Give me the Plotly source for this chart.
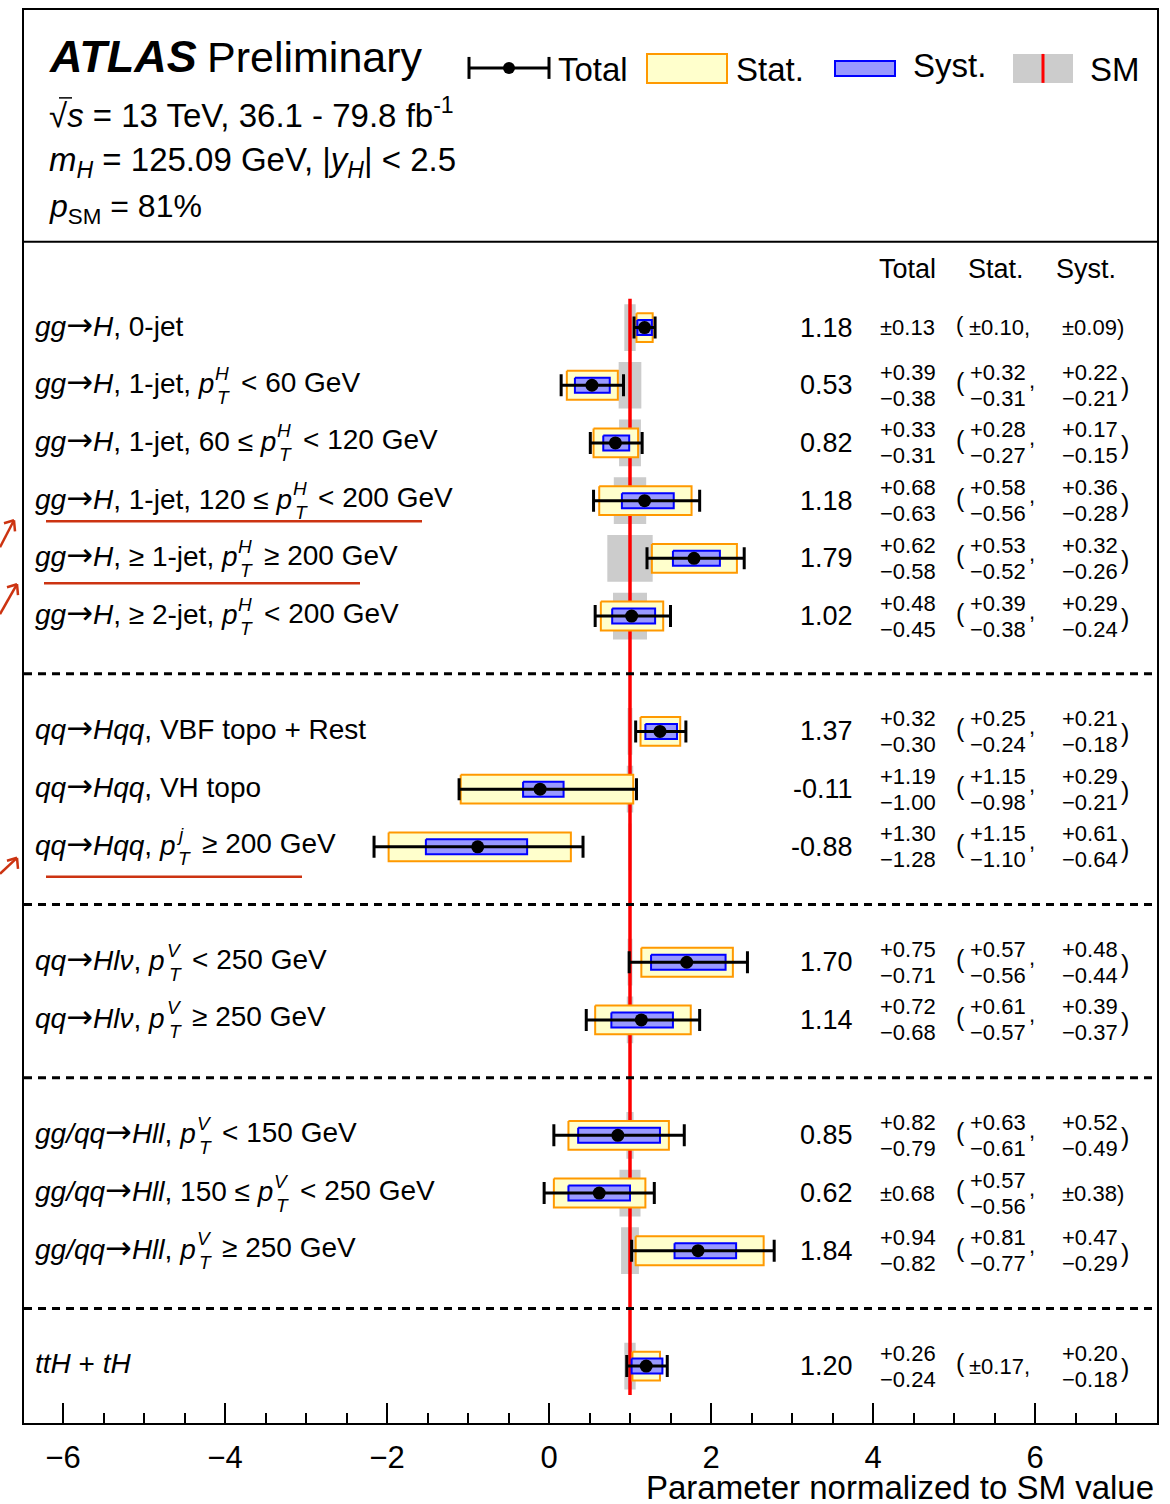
import plotly.graph_objects as go

# ---------------- data ----------------
group_sizes = [6, 3, 2, 3, 1]
# label: (prefix, superscript, subscript, suffix); {..} marks italic text
labels = [
    ("{gg}→{H}, 0-jet", None, None, None),
    ("{gg}→{H}, 1-jet, {p}", "H", "T", "< 60 GeV"),
    ("{gg}→{H}, 1-jet, 60 ≤ {p}", "H", "T", "< 120 GeV"),
    ("{gg}→{H}, 1-jet, 120 ≤ {p}", "H", "T", "< 200 GeV"),
    ("{gg}→{H}, ≥ 1-jet, {p}", "H", "T", "≥ 200 GeV"),
    ("{gg}→{H}, ≥ 2-jet, {p}", "H", "T", "< 200 GeV"),
    ("{qq}→{Hqq}, VBF topo + Rest", None, None, None),
    ("{qq}→{Hqq}, VH topo", None, None, None),
    ("{qq}→{Hqq}, {p}", "j", "T", "≥ 200 GeV"),
    ("{qq}→{Hlν}, {p}", "V", "T", "< 250 GeV"),
    ("{qq}→{Hlν}, {p}", "V", "T", "≥ 250 GeV"),
    ("{gg/qq}→{Hll}, {p}", "V", "T", "< 150 GeV"),
    ("{gg/qq}→{Hll}, 150 ≤ {p}", "V", "T", "< 250 GeV"),
    ("{gg/qq}→{Hll}, {p}", "V", "T", "≥ 250 GeV"),
    ("{ttH} + {tH}", None, None, None),
]
values  = [1.18, 0.53, 0.82, 1.18, 1.79, 1.02, 1.37, -0.11, -0.88, 1.70, 1.14, 0.85, 0.62, 1.84, 1.20]
tot_hi  = [0.13, 0.39, 0.33, 0.68, 0.62, 0.48, 0.32, 1.19, 1.30, 0.75, 0.72, 0.82, 0.68, 0.94, 0.26]
tot_lo  = [0.13, 0.38, 0.31, 0.63, 0.58, 0.45, 0.30, 1.00, 1.28, 0.71, 0.68, 0.79, 0.68, 0.82, 0.24]
stat_hi = [0.10, 0.32, 0.28, 0.58, 0.53, 0.39, 0.25, 1.15, 1.15, 0.57, 0.61, 0.63, 0.57, 0.81, 0.17]
stat_lo = [0.10, 0.31, 0.27, 0.56, 0.52, 0.38, 0.24, 0.98, 1.10, 0.56, 0.57, 0.61, 0.56, 0.77, 0.17]
syst_hi = [0.09, 0.22, 0.17, 0.36, 0.32, 0.29, 0.21, 0.29, 0.61, 0.48, 0.39, 0.52, 0.38, 0.47, 0.20]
syst_lo = [0.09, 0.21, 0.15, 0.28, 0.26, 0.24, 0.18, 0.21, 0.64, 0.44, 0.37, 0.49, 0.38, 0.29, 0.18]
sm_unc  = [0.07, 0.14, 0.135, 0.20, 0.28, 0.21, 0.03, 0.04, 0.02, 0.03, 0.04, 0.045, 0.13, 0.11, 0.07]
sm_value = 1.0
x_tick_vals = [-6, -4, -2, 0, 2, 4, 6]
x_tick_text = ["−6", "−4", "−2", "0", "2", "4", "6"]

# ---------------- layout constants (pixels) ----------------
W, H = 1170, 1504
PX0, PX1, PY0, PY1 = 24, 1157, 8, 1423
X_ZERO_PX, X_PER_UNIT = 549.0, 81.0
ROW0_PX, ROW_PX = 326.0, 57.78

def xdata(px): return (px - X_ZERO_PX) / X_PER_UNIT
def ydata(py): return (py - ROW0_PX) / ROW_PX
def xp(px): return (px - PX0) / (PX1 - PX0)
def yp(py): return (PY1 - py) / (PY1 - PY0)
def dy(pix): return pix / ROW_PX

FONT = "Liberation Sans, Arial, Helvetica, sans-serif"
LAB_SIZE = 28
SUP_SIZE = 19
ARROW_SIZE = 32
ARROW_W = 0.838  # DejaVu Sans arrow advance (em)

# Arial / Liberation Sans advance widths (em)
CW = {' ': .278, ',': .278, '-': .333, '.': .278, '/': .278, '+': .584, '<': .584,
      '≤': .549, '≥': .549, '=': .584, 'ν': .55}
for ch in '0123456789':
    CW[ch] = .556
CW.update({'A': .667, 'B': .667, 'F': .611, 'G': .778, 'H': .722, 'R': .722, 'T': .611,
           'V': .667, 'a': .556, 'e': .556, 'g': .556, 'i': .222, 'j': .222, 'l': .222,
           'o': .556, 'p': .556, 'q': .556, 's': .5, 't': .278})

def text_width(s, size):
    w = 0.0
    for ch in s:
        if ch in '{}':
            continue
        if ch == '→':
            w += ARROW_W * ARROW_SIZE
        else:
            w += CW.get(ch, .556) * size
    return w

def to_html(s):
    out = s.replace('{', '<i>').replace('}', '</i>')
    out = out.replace('→', '<span style="font-family:DejaVu Sans;font-size:%dpx">→</span>' % ARROW_SIZE)
    return out

# rows / separators
slots, seps = [], []
s = 0
for gi, n in enumerate(group_sizes):
    for _ in range(n):
        slots.append(s); s += 1
    if gi < len(group_sizes) - 1:
        seps.append(s); s += 1

def boxes(center, lo, hi, half):
    xs, ys = [], []
    for c, l, h, r in zip(center, lo, hi, slots):
        xs += [c - l, c + h, c + h, c - l, c - l, None]
        ys += [r - half, r - half, r + half, r + half, r - half, None]
    return xs, ys

fig = go.Figure()

gx, gy = boxes([sm_value] * len(slots), sm_unc, sm_unc, 0.405)
fig.add_trace(go.Scatter(x=gx, y=gy, fill="toself", mode="lines",
                         line=dict(width=0, color="#cccccc"), fillcolor="#cccccc",
                         hoverinfo="skip", showlegend=False))
fig.add_trace(go.Scatter(x=[sm_value, sm_value], y=[slots[0] - 0.5, slots[-1] + 0.5],
                         mode="lines", line=dict(color="#ff0000", width=3.5),
                         hoverinfo="skip", showlegend=False))
sx, sy = boxes(values, stat_lo, stat_hi, 0.25)
fig.add_trace(go.Scatter(x=sx, y=sy, fill="toself", mode="lines",
                         line=dict(width=2, color="#ff9900"), fillcolor="#ffffcc",
                         hoverinfo="skip", showlegend=False))
yx, yy = boxes(values, syst_lo, syst_hi, 0.13)
fig.add_trace(go.Scatter(x=yx, y=yy, fill="toself", mode="lines",
                         line=dict(width=2, color="#0000ff"), fillcolor="#9999ff",
                         hoverinfo="skip", showlegend=False))
fig.add_trace(go.Scatter(x=values, y=slots, mode="markers",
                         marker=dict(color="black", size=13),
                         error_x=dict(type="data", symmetric=False, array=tot_hi,
                                      arrayminus=tot_lo, color="black", thickness=3, width=11),
                         hoverinfo="skip", showlegend=False))

shapes = []
ann = []

for sp in seps:
    shapes.append(dict(type="line", xref="paper", yref="y", x0=0, x1=1, y0=sp, y1=sp,
                       line=dict(color="black", width=3, dash="8px,6px")))
shapes.append(dict(type="line", xref="paper", yref="paper", x0=0, x1=1,
                   y0=yp(240), y1=yp(240), line=dict(color="black", width=2)))

def txt(x, y, text, size, xanchor="left", yref="paper", yanchor="middle", color="black"):
    ann.append(dict(x=x, y=y, xref="paper", yref=yref, text=text, showarrow=False,
                    xanchor=xanchor, yanchor=yanchor,
                    font=dict(family=FONT, size=size, color=color)))

# header text
txt(xp(47), yp(55), "<b><i>ATLAS</i></b>", 45)
txt(xp(205), yp(55), "Preliminary", 43)
txt(xp(47), yp(111), "√<i>s</i> = 13 TeV, 36.1 - 79.8 fb<sup>-1</sup>", 33)
shapes.append(dict(type="line", xref="paper", yref="paper", x0=xp(59), x1=xp(72),
                   y0=yp(96), y1=yp(96), line=dict(color="black", width=1.5)))
txt(xp(47), yp(160), "<i>m</i><sub><i>H</i></sub> = 125.09 GeV, |<i>y</i><sub><i>H</i></sub>| < 2.5", 33)
txt(xp(47), yp(207), "<i>p</i><sub>SM</sub> = 81%", 32)

# legend
LG_Y = 66
shapes.append(dict(type="line", xref="paper", yref="paper", x0=xp(469), x1=xp(549),
                   y0=yp(LG_Y), y1=yp(LG_Y), line=dict(color="black", width=3)))
for cx in (469, 549):
    shapes.append(dict(type="line", xref="paper", yref="paper", x0=xp(cx), x1=xp(cx),
                       y0=yp(LG_Y - 11), y1=yp(LG_Y + 11), line=dict(color="black", width=3)))
shapes.append(dict(type="circle", xref="paper", yref="paper", x0=xp(503), x1=xp(515),
                   y0=yp(LG_Y - 6), y1=yp(LG_Y + 6), fillcolor="black", line=dict(width=0)))
txt(xp(556), yp(68), "Total", 33)
shapes.append(dict(type="rect", xref="paper", yref="paper", x0=xp(647), x1=xp(727),
                   y0=yp(52), y1=yp(81), fillcolor="#ffffcc", line=dict(color="#ff9900", width=2)))
txt(xp(734), yp(68), "Stat.", 33)
shapes.append(dict(type="rect", xref="paper", yref="paper", x0=xp(835), x1=xp(895),
                   y0=yp(59), y1=yp(74), fillcolor="#9999ff", line=dict(color="#0000ff", width=2)))
txt(xp(911), yp(64), "Syst.", 33)
shapes.append(dict(type="rect", xref="paper", yref="paper", x0=xp(1013), x1=xp(1073),
                   y0=yp(52), y1=yp(81), fillcolor="#cccccc", line=dict(width=0)))
shapes.append(dict(type="line", xref="paper", yref="paper", x0=xp(1043), x1=xp(1043),
                   y0=yp(52), y1=yp(81), line=dict(color="#ff0000", width=3)))
txt(xp(1088), yp(68), "SM", 33)

# column headers
txt(xp(907), ydata(267), "Total", 27, xanchor="center", yref="y")
txt(xp(996), ydata(267), "Stat.", 27, xanchor="center", yref="y")
txt(xp(1086), ydata(267), "Syst.", 27, xanchor="center", yref="y")

# row labels with stacked sub/superscripts
LAB_X = 33
for i, (pre, sup, sub, suf) in enumerate(labels):
    r = slots[i]
    txt(xp(LAB_X), r - dy(3), to_html(pre), LAB_SIZE, yref="y")
    if sup:
        sx0 = LAB_X + text_width(pre, LAB_SIZE) + 1
        txt(xp(sx0), r - dy(12), "<i>%s</i>" % sup, SUP_SIZE, yref="y")
        txt(xp(sx0 + 2), r + dy(12), "<i>%s</i>" % sub, SUP_SIZE, yref="y")
        sw = max(text_width(sup, SUP_SIZE), text_width(sub, SUP_SIZE) + 2)
        txt(xp(sx0 + sw + 0.278 * LAB_SIZE + 4), r - dy(3), suf, LAB_SIZE, yref="y")

# numbers
NUM = 22
PAREN = 25
for i in range(len(values)):
    r = slots[i]
    txt(xp(855), r, "%.2f" % values[i], 27, xanchor="right", yref="y")
    if tot_hi[i] == tot_lo[i]:
        txt(xp(878), r, "±%.2f" % tot_hi[i], NUM, yref="y")
    else:
        txt(xp(878), r - dy(13), "+%.2f" % tot_hi[i], NUM, yref="y")
        txt(xp(878), r + dy(13), "−%.2f" % tot_lo[i], NUM, yref="y")
    two_stat = stat_hi[i] != stat_lo[i]
    two_syst = syst_hi[i] != syst_lo[i]
    txt(xp(954), r - dy(3), "(", PAREN if two_stat or two_syst else NUM, yref="y")
    if not two_stat:
        txt(xp(967), r, "±%.2f," % stat_hi[i], NUM, yref="y")
    else:
        txt(xp(968), r - dy(13), "+%.2f" % stat_hi[i], NUM, yref="y")
        txt(xp(968), r + dy(13), "−%.2f" % stat_lo[i], NUM, yref="y")
        txt(xp(1027), r - dy(5), ",", NUM, yref="y")
    if not two_syst:
        txt(xp(1060), r, "±%.2f)" % syst_hi[i], NUM, yref="y")
    else:
        txt(xp(1060), r - dy(13), "+%.2f" % syst_hi[i], NUM, yref="y")
        txt(xp(1060), r + dy(13), "−%.2f" % syst_lo[i], NUM, yref="y")
        txt(xp(1119), r + dy(2), ")", PAREN, yref="y")

ann.append(dict(x=xp(1156), y=yp(1488), xref="paper", yref="paper", showarrow=False,
                text="Parameter normalized to SM value", xanchor="right", yanchor="middle",
                font=dict(family=FONT, size=33, color="black")))

# red hand annotations (underlines + arrows)
RED = "#cc3311"
for (x0, x1, yy_) in [(46, 422, 520), (44, 360, 582), (46, 302, 876)]:
    shapes.append(dict(type="line", xref="paper", yref="paper", x0=xp(x0), x1=xp(x1),
                       y0=yp(yy_), y1=yp(yy_), line=dict(color=RED, width=2.5)))
for (tx, ty, bx, by) in [(14, 519, 0, 546), (17, 583, 0, 613), (17, 857, 0, 873)]:
    shapes.append(dict(type="line", xref="paper", yref="paper", x0=xp(bx), x1=xp(tx),
                       y0=yp(by), y1=yp(ty), line=dict(color=RED, width=2.5)))
    shapes.append(dict(type="line", xref="paper", yref="paper", x0=xp(tx - 10), x1=xp(tx),
                       y0=yp(ty + 3), y1=yp(ty), line=dict(color=RED, width=2.5)))
    shapes.append(dict(type="line", xref="paper", yref="paper", x0=xp(tx + 1), x1=xp(tx),
                       y0=yp(ty + 11), y1=yp(ty), line=dict(color=RED, width=2.5)))

fig.update_layout(
    width=W, height=H,
    margin=dict(l=PX0, r=W - PX1, t=PY0, b=H - PY1, pad=0),
    paper_bgcolor="white", plot_bgcolor="white",
    shapes=shapes, annotations=ann, showlegend=False,
    font=dict(family=FONT, color="black"),
)
fig.update_xaxes(range=[xdata(PX0), xdata(PX1)], showgrid=False, zeroline=False,
                 showline=True, mirror=True, linecolor="black", linewidth=2,
                 ticks="inside", ticklen=20, tickwidth=1.5, tickcolor="black",
                 tickvals=x_tick_vals, ticktext=x_tick_text, ticklabelstandoff=6,
                 tickfont=dict(family=FONT, size=31, color="black"),
                 minor=dict(ticks="inside", ticklen=10, tickwidth=1.5, tickcolor="black",
                            dtick=0.5, tick0=0, showgrid=False))
fig.update_yaxes(range=[ydata(PY1), ydata(PY0)], showgrid=False, zeroline=False,
                 showline=True, mirror=True, linecolor="black", linewidth=2,
                 showticklabels=False, ticks="")

fig.write_html("out.html", config={"displayModeBar": False},
               post_script="document.body.style.margin='0px';")
